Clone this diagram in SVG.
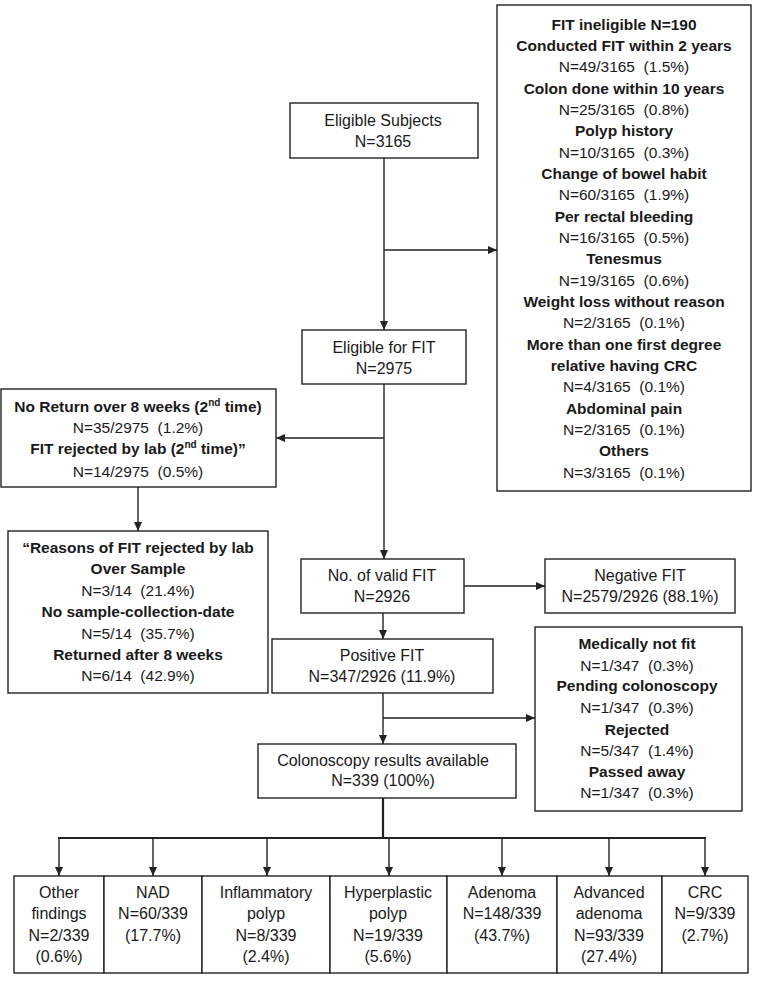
<svg xmlns="http://www.w3.org/2000/svg" width="758" height="981" viewBox="0 0 758 981">
<defs>
<style>
.box{fill:#fff;stroke:#222;stroke-width:1.4}
.ln{fill:none;stroke:#222;stroke-width:1.4}
.thk{fill:none;stroke:#222;stroke-width:2.2}
text{font-family:"Liberation Sans",Arial,sans-serif;fill:#1a1a1a;text-anchor:middle}
.r{font-size:16px}
.s{font-size:15.5px;white-space:pre}
.b{font-size:15.5px;font-weight:bold}
.sup{font-size:10px}
</style>
<marker id="ah" markerUnits="userSpaceOnUse" markerWidth="10" markerHeight="10" refX="9" refY="4" orient="auto">
<path d="M0,0 L9,4 L0,8 Z" fill="#222"/>
</marker>
</defs>
<rect width="758" height="981" fill="#fff"/>

<g id="connectors">
<line class="ln" x1="384" y1="158" x2="384" y2="330" marker-end="url(#ah)"/>
<line class="ln" x1="384" y1="250" x2="497" y2="250" marker-end="url(#ah)"/>
<line class="ln" x1="384" y1="384" x2="384" y2="559" marker-end="url(#ah)"/>
<line class="ln" x1="384" y1="438" x2="276" y2="438" marker-end="url(#ah)"/>
<line class="ln" x1="138" y1="487" x2="138" y2="531" marker-end="url(#ah)"/>
<line class="ln" x1="464" y1="586" x2="545" y2="586" marker-end="url(#ah)"/>
<line class="ln" x1="383" y1="613" x2="383" y2="639" marker-end="url(#ah)"/>
<line class="ln" x1="383" y1="693" x2="383" y2="744" marker-end="url(#ah)"/>
<line class="ln" x1="383" y1="718" x2="535" y2="718" marker-end="url(#ah)"/>
<line class="thk" x1="383" y1="798" x2="383" y2="838"/>
<line class="thk" x1="58" y1="838" x2="706" y2="838"/>
<line class="ln" x1="59" y1="838" x2="59" y2="876" marker-end="url(#ah)"/>
<line class="ln" x1="153" y1="838" x2="153" y2="876" marker-end="url(#ah)"/>
<line class="ln" x1="267" y1="838" x2="267" y2="876" marker-end="url(#ah)"/>
<line class="ln" x1="389" y1="838" x2="389" y2="876" marker-end="url(#ah)"/>
<line class="ln" x1="502" y1="838" x2="502" y2="876" marker-end="url(#ah)"/>
<line class="ln" x1="609" y1="838" x2="609" y2="876" marker-end="url(#ah)"/>
<line class="ln" x1="705" y1="838" x2="705" y2="876" marker-end="url(#ah)"/>
</g>

<g id="eligible-subjects">
<rect class="box" x="290" y="103" width="188" height="55"/>
<text class="r" x="383" y="126">Eligible Subjects</text>
<text class="r" x="383" y="147">N=3165</text>
</g>

<g id="fit-ineligible">
<rect class="box" x="497" y="5" width="254" height="486"/>
<text class="b" x="624" y="29.5">FIT ineligible N=190</text>
<text class="b" x="624" y="50.8">Conducted FIT within 2 years</text>
<text class="s" x="624" y="72.2">N=49/3165  (1.5%)</text>
<text class="b" x="624" y="93.5">Colon done within 10 years</text>
<text class="s" x="624" y="114.8">N=25/3165  (0.8%)</text>
<text class="b" x="624" y="136.2">Polyp history</text>
<text class="s" x="624" y="157.5">N=10/3165  (0.3%)</text>
<text class="b" x="624" y="178.8">Change of bowel habit</text>
<text class="s" x="624" y="200.2">N=60/3165  (1.9%)</text>
<text class="b" x="624" y="221.5">Per rectal bleeding</text>
<text class="s" x="624" y="242.8">N=16/3165  (0.5%)</text>
<text class="b" x="624" y="264.2">Tenesmus</text>
<text class="s" x="624" y="285.5">N=19/3165  (0.6%)</text>
<text class="b" x="624" y="306.8">Weight loss without reason</text>
<text class="s" x="624" y="328.2">N=2/3165  (0.1%)</text>
<text class="b" x="624" y="349.5">More than one first degree</text>
<text class="b" x="624" y="370.8">relative having CRC</text>
<text class="s" x="624" y="392.2">N=4/3165  (0.1%)</text>
<text class="b" x="624" y="413.5">Abdominal pain</text>
<text class="s" x="624" y="434.8">N=2/3165  (0.1%)</text>
<text class="b" x="624" y="456.2">Others</text>
<text class="s" x="624" y="477.5">N=3/3165  (0.1%)</text>
</g>

<g id="eligible-for-fit">
<rect class="box" x="302" y="330" width="164" height="54"/>
<text class="r" x="384" y="352.5">Eligible for FIT</text>
<text class="r" x="384" y="373.5">N=2975</text>
</g>

<g id="no-return">
<rect class="box" x="1" y="389" width="275" height="98"/>
<text class="b" x="138" y="412">No Return over 8 weeks (2<tspan class="sup" dy="-6">nd</tspan><tspan dy="6"> time)</tspan></text>
<text class="s" x="138" y="432.5">N=35/2975  (1.2%)</text>
<text class="b" x="138" y="453.5">FIT rejected by lab (2<tspan class="sup" dy="-6">nd</tspan><tspan dy="6"> time)”</tspan></text>
<text class="s" x="138" y="477">N=14/2975  (0.5%)</text>
</g>

<g id="reasons-rejected">
<rect class="box" x="8" y="531" width="260" height="162"/>
<text class="b" x="138" y="552.5">“Reasons of FIT rejected by lab</text>
<text class="b" x="138" y="573.5">Over Sample</text>
<text class="s" x="138" y="595.5">N=3/14  (21.4%)</text>
<text class="b" x="138" y="617">No sample-collection-date</text>
<text class="s" x="138" y="638.5">N=5/14  (35.7%)</text>
<text class="b" x="138" y="659.5">Returned after 8 weeks</text>
<text class="s" x="138" y="681">N=6/14  (42.9%)</text>
</g>

<g id="valid-fit">
<rect class="box" x="301" y="559" width="163" height="54"/>
<text class="r" x="382" y="580.5">No. of valid FIT</text>
<text class="r" x="382" y="602">N=2926</text>
</g>

<g id="negative-fit">
<rect class="box" x="545" y="559" width="190" height="54"/>
<text class="r" x="640" y="580.5">Negative FIT</text>
<text class="r" x="640" y="602">N=2579/2926 (88.1%)</text>
</g>

<g id="positive-fit">
<rect class="box" x="272" y="639" width="221" height="54"/>
<text class="r" x="382" y="661">Positive FIT</text>
<text class="r" x="382" y="682">N=347/2926 (11.9%)</text>
</g>

<g id="not-done">
<rect class="box" x="535" y="627" width="207" height="184"/>
<text class="b" x="637" y="648.5">Medically not fit</text>
<text class="s" x="637" y="670.5">N=1/347  (0.3%)</text>
<text class="b" x="637" y="691">Pending colonoscopy</text>
<text class="s" x="637" y="713">N=1/347  (0.3%)</text>
<text class="b" x="637" y="734.5">Rejected</text>
<text class="s" x="637" y="755.5">N=5/347  (1.4%)</text>
<text class="b" x="637" y="776.5">Passed away</text>
<text class="s" x="637" y="797.5">N=1/347  (0.3%)</text>
</g>

<g id="colonoscopy">
<rect class="box" x="258" y="744" width="258" height="54"/>
<text class="r" x="383" y="766">Colonoscopy results available</text>
<text class="r" x="383" y="786">N=339 (100%)</text>
</g>

<g id="other-findings">
<rect class="box" x="14" y="876" width="90" height="97"/>
<text class="r" x="59" y="898">Other</text>
<text class="r" x="59" y="919">findings</text>
<text class="r" x="59" y="940.5">N=2/339</text>
<text class="r" x="59" y="962">(0.6%)</text>
</g>

<g id="nad">
<rect class="box" x="104" y="876" width="98" height="97"/>
<text class="r" x="153" y="898">NAD</text>
<text class="r" x="153" y="919">N=60/339</text>
<text class="r" x="153" y="940.5">(17.7%)</text>
</g>

<g id="inflammatory">
<rect class="box" x="202" y="876" width="128" height="97"/>
<text class="r" x="266" y="898">Inflammatory</text>
<text class="r" x="266" y="919">polyp</text>
<text class="r" x="266" y="940.5">N=8/339</text>
<text class="r" x="266" y="962">(2.4%)</text>
</g>

<g id="hyperplastic">
<rect class="box" x="330" y="876" width="117" height="97"/>
<text class="r" x="388" y="898">Hyperplastic</text>
<text class="r" x="388" y="919">polyp</text>
<text class="r" x="388" y="940.5">N=19/339</text>
<text class="r" x="388" y="962">(5.6%)</text>
</g>

<g id="adenoma">
<rect class="box" x="447" y="876" width="110" height="97"/>
<text class="r" x="502" y="898">Adenoma</text>
<text class="r" x="502" y="919">N=148/339</text>
<text class="r" x="502" y="940.5">(43.7%)</text>
</g>

<g id="advanced-adenoma">
<rect class="box" x="557" y="876" width="105" height="97"/>
<text class="r" x="609" y="898">Advanced</text>
<text class="r" x="609" y="919">adenoma</text>
<text class="r" x="609" y="940.5">N=93/339</text>
<text class="r" x="609" y="962">(27.4%)</text>
</g>

<g id="crc">
<rect class="box" x="662" y="876" width="86" height="97"/>
<text class="r" x="705" y="898">CRC</text>
<text class="r" x="705" y="919">N=9/339</text>
<text class="r" x="705" y="940.5">(2.7%)</text>
</g>
</svg>
